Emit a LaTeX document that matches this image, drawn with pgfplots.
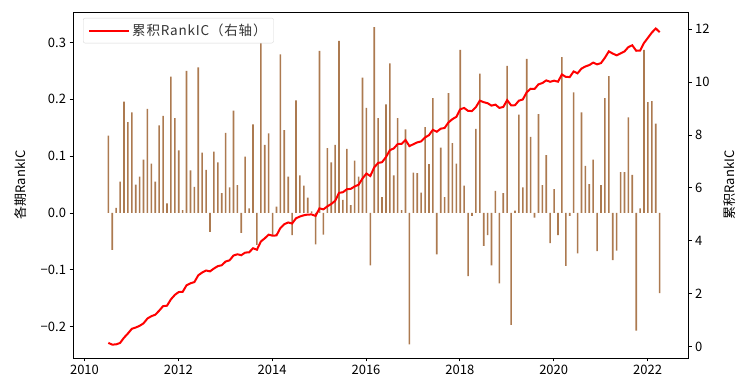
\documentclass[border=0pt]{standalone}
\usepackage{fontspec}
\setmainfont{Noto Sans CJK SC}
\newfontfamily\legfont[LetterSpace=6]{Noto Sans CJK SC}
\usepackage{pgfplots}
\pgfplotsset{compat=1.18}
\usepackage{pgfplotstable}
\definecolor{barc}{RGB}{172,122,80}
\definecolor{legframe}{RGB}{215,215,215}
\pgfplotstableread{
k ic cum
0 0.136 0.136
1 -0.065 0.071
2 0.009 0.080
3 0.055 0.135
4 0.196 0.331
5 0.160 0.491
6 0.177 0.668
7 0.050 0.718
8 0.064 0.782
9 0.094 0.876
10 0.183 1.059
11 0.087 1.146
12 0.055 1.201
13 0.154 1.355
14 0.171 1.526
15 0.017 1.543
16 0.240 1.783
17 0.167 1.950
18 0.110 2.060
19 0.005 2.065
20 0.250 2.315
21 0.075 2.390
22 0.046 2.436
23 0.256 2.692
24 0.106 2.798
25 0.076 2.874
26 -0.033 2.841
27 0.108 2.949
28 0.089 3.038
29 0.035 3.073
30 0.141 3.214
31 0.045 3.259
32 0.180 3.439
33 0.049 3.488
34 -0.035 3.453
35 0.099 3.552
36 0.008 3.560
37 0.156 3.716
38 -0.056 3.660
39 0.310 3.970
40 0.120 4.090
41 0.140 4.230
42 -0.040 4.190
43 0.011 4.201
44 0.279 4.480
45 0.146 4.626
46 0.064 4.690
47 -0.039 4.651
48 0.198 4.849
49 0.066 4.915
50 0.048 4.963
51 0.027 4.990
52 0.003 4.993
53 -0.055 4.938
54 0.285 5.223
55 -0.038 5.185
56 0.114 5.299
57 0.089 5.388
58 0.120 5.508
59 0.303 5.811
60 0.023 5.834
61 0.113 5.947
62 0.014 5.961
63 0.092 6.053
64 0.064 6.117
65 0.238 6.355
66 0.185 6.540
67 -0.092 6.448
68 0.327 6.775
69 0.167 6.942
70 0.028 6.970
71 0.191 7.161
72 0.263 7.424
73 0.066 7.490
74 0.167 7.657
75 0.005 7.662
76 0.147 7.809
77 -0.231 7.578
78 0.071 7.649
79 0.070 7.719
80 0.036 7.755
81 0.151 7.906
82 0.086 7.992
83 0.202 8.194
84 -0.073 8.121
85 0.115 8.236
86 0.028 8.264
87 0.211 8.475
88 0.123 8.598
89 0.087 8.685
90 0.287 8.972
91 0.048 9.020
92 -0.111 8.909
93 -0.005 8.904
94 0.148 9.052
95 0.245 9.297
96 -0.058 9.239
97 -0.039 9.200
98 -0.092 9.108
99 0.039 9.147
100 -0.124 9.023
101 0.035 9.058
102 0.259 9.317
103 -0.197 9.120
104 0.004 9.124
105 0.173 9.297
106 0.045 9.342
107 0.271 9.613
108 0.134 9.747
109 -0.008 9.739
110 0.174 9.913
111 0.049 9.962
112 0.102 10.064
113 -0.053 10.011
114 0.042 10.053
115 -0.039 10.014
116 0.274 10.288
117 -0.093 10.195
118 -0.005 10.190
119 0.212 10.402
120 -0.071 10.331
121 0.177 10.508
122 0.083 10.591
123 0.051 10.642
124 0.094 10.736
125 -0.067 10.669
126 0.049 10.718
127 0.202 10.920
128 0.241 11.161
129 -0.083 11.078
130 -0.066 11.012
131 0.072 11.084
132 0.072 11.156
133 0.168 11.324
134 0.067 11.391
135 -0.207 11.184
136 0.008 11.192
137 0.287 11.479
138 0.195 11.674
139 0.197 11.871
140 0.157 12.028
141 -0.141 11.887
}\datatable

\newcommand{\tickfont}{\fontsize{13}{15}\selectfont}
\begin{document}
\begin{tikzpicture}
\useasboundingbox (-73pt,-32pt) rectangle (665pt,358pt);
\pgfplotsset{
  every axis/.append style={
    at={(0pt,0pt)}, anchor=south west,
    width=615pt, height=346pt, scale only axis,
    xmin=-9.04, xmax=148.25,
    tick align=outside, major tick length=3.5pt,
    tick style={black, line width=0.8pt},
    axis line style={black, line width=0.8pt},
  }
}
\begin{axis}[
  ymin=-0.2551, ymax=0.3536,
  xtick={-6.1,17.9,41.9,65.9,89.9,113.9,137.9},
  xticklabels={2010,2012,2014,2016,2018,2020,2022},
  ytick={-0.2,-0.1,0,0.1,0.2,0.3},
  yticklabels={−0.2,−0.1,0.0,0.1,0.2,0.3},
  xtick pos=left, ytick pos=left,
  xticklabel style={font=\tickfont},
  yticklabel style={font=\tickfont},
  ylabel={各期RankIC},
  ylabel style={font=\tickfont, yshift=7pt},
]
\addplot[ybar, bar width=1.6pt, bar shift=0pt, fill=barc, draw=none] table[x=k, y=ic]{\datatable};
\end{axis}
\begin{axis}[
  ymin=-0.435, ymax=12.65,
  hide x axis,
  axis y line*=right,
  ytick={0,2,4,6,8,10,12},
  yticklabels={0,2,4,6,8,10,12},
  yticklabel style={font=\tickfont},
  ylabel={累积RankIC},
  ylabel style={font=\tickfont, yshift=-7pt},
  legend style={at={(0.0163,0.983)}, anchor=north west, draw=legframe, rounded corners=2pt, fill=white, text=black!80, font=\legfont\fontsize{13.5}{15}\selectfont, inner xsep=5pt, inner ysep=4pt},
  legend cell align=left,
  legend image code/.code={\draw[red, line width=2pt] (0pt,0pt) -- (30pt,0pt); \path (0pt,0pt) -- (40pt,0pt);},
]
\addplot[red, line width=2pt, no marks] table[x=k, y=cum]{\datatable};
\addlegendentry{累积RankIC（右轴）}
\end{axis}
\end{tikzpicture}
\end{document}
